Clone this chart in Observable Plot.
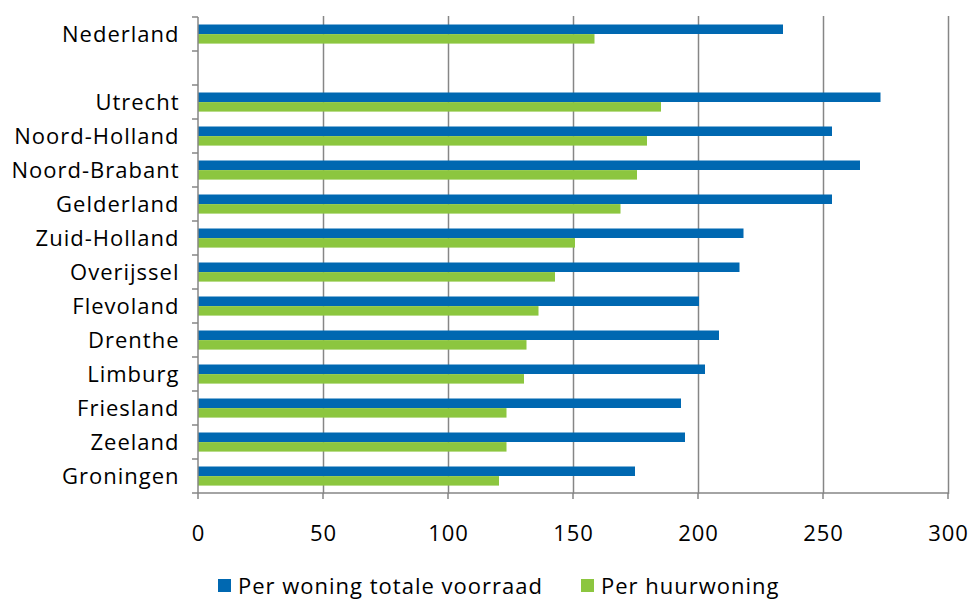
<!DOCTYPE html>
<html>
<head>
<meta charset="utf-8">
<script src="https://cdn.jsdelivr.net/npm/d3@7"></script>
<script src="https://cdn.jsdelivr.net/npm/@observablehq/plot@0.6"></script>
<style>
  body { margin: 0; background: #fff; font-family: "Open Sans", sans-serif; }
  #legend { display: flex; align-items: center; height: 30px; padding-left: 218px; font-size: 22px; letter-spacing: 1px; color: #000; }
  .sw { width: 13px; height: 13px; display: inline-block; margin-right: 7px; }
  .item { display: flex; align-items: center; margin-right: 38px; }
</style>
</head>
<body>
<div id="chart"></div>
<div id="legend"></div>
<script>
// ---- data ----
const categories = ["Nederland", " ", "Utrecht", "Noord-Holland", "Noord-Brabant", "Gelderland", "Zuid-Holland", "Overijssel", "Flevoland", "Drenthe", "Limburg", "Friesland", "Zeeland", "Groningen"];
const seriesNames = ["Per woning totale voorraad", "Per huurwoning"];
const totaleVoorraad = [234, null, 273, 253.6, 264.8, 253.6, 218.2, 216.6, 200.4, 208.4, 202.8, 193.2, 194.8, 174.8];
const huurwoning = [158.6, null, 185.2, 179.6, 175.6, 169, 150.8, 142.8, 136.2, 131.4, 130.4, 123.4, 123.4, 120.4];
const xTicks = [0, 50, 100, 150, 200, 250, 300];
const colors = ["#0068b1", "#8cc63f"];

const blueData = categories.map((c, i) => ({cat: c, value: totaleVoorraad[i]})).filter(d => d.value != null);
const greenData = categories.map((c, i) => ({cat: c, value: huurwoning[i]})).filter(d => d.value != null);

const axisColor = "#868686";

// custom mark: axis lines and ticks (Excel-style, ticks at band boundaries)
function axisFrame(...args) {
  const scales = args.find(a => a && typeof a === "object" && typeof a.x === "function" && typeof a.y === "function");
  const x = scales.x, y = scales.y;
  const bw = y.bandwidth ? y.bandwidth() : (y(categories[1]) - y(categories[0]));
  const top = y(categories[0]);
  const bottom = y(categories[categories.length - 1]) + bw;
  const x0 = x(0), x1 = x(300);
  const g = d3.create("svg:g").attr("stroke", axisColor).attr("stroke-width", 1.5).attr("fill", "none");
  g.append("line").attr("x1", x0).attr("x2", x0).attr("y1", top).attr("y2", bottom);
  g.append("line").attr("x1", x0).attr("x2", x1).attr("y1", bottom).attr("y2", bottom);
  const bounds = categories.map(c => y(c)).concat([bottom]);
  for (const b of bounds) g.append("line").attr("x1", x0 - 6).attr("x2", x0).attr("y1", b).attr("y2", b);
  for (const t of xTicks) g.append("line").attr("x1", x(t)).attr("x2", x(t)).attr("y1", bottom).attr("y2", bottom + 6);
  return g.node();
}

const chart = Plot.plot({
  width: 972,
  height: 570,
  marginLeft: 198,
  marginRight: 24,
  marginTop: 16,
  marginBottom: 76,
  style: {fontFamily: "'Open Sans', sans-serif", fontSize: "22px", letterSpacing: "1px", color: "#000", background: "#fff"},
  x: {domain: [0, 300], ticks: xTicks, tickSize: 0, tickPadding: 31, label: null, tickFormat: d => String(d)},
  y: {domain: categories, padding: 0, tickSize: 0, tickPadding: 19, label: null},
  marks: [
    Plot.ruleX(xTicks.filter(t => t > 0), {x: d => d, stroke: axisColor, strokeWidth: 1.5}),
    Plot.barX(blueData, {x: "value", y: "cat", fill: colors[0], insetTop: 7.5, insetBottom: 17}),
    Plot.barX(greenData, {x: "value", y: "cat", fill: colors[1], insetTop: 17.1, insetBottom: 7.4}),
    axisFrame
  ]
});
document.getElementById("chart").appendChild(chart);

const legend = d3.select("#legend");
seriesNames.forEach((name, i) => {
  const item = legend.append("div").attr("class", "item");
  item.append("span").attr("class", "sw").style("background", colors[i]);
  item.append("span").text(name);
});
</script>
</body>
</html>
